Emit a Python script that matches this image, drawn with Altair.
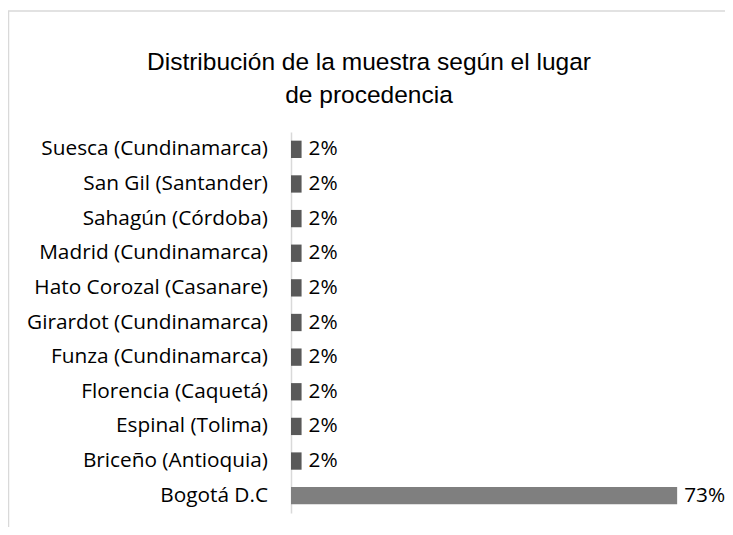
import altair as alt
import pandas as pd

lugares = [
    "Suesca (Cundinamarca)",
    "San Gil (Santander)",
    "Sahagún (Córdoba)",
    "Madrid (Cundinamarca)",
    "Hato Corozal (Casanare)",
    "Girardot (Cundinamarca)",
    "Funza (Cundinamarca)",
    "Florencia (Caquetá)",
    "Espinal (Tolima)",
    "Briceño (Antioquia)",
    "Bogotá D.C",
]
porcentajes = [2, 2, 2, 2, 2, 2, 2, 2, 2, 2, 73]

df = pd.DataFrame({"lugar": lugares, "pct": porcentajes})
df["etiqueta"] = df["pct"].astype(str) + "%"

FONT = "Open Sans"
FS = 20.8
W, H = 420, 381

y_enc = alt.Y(
    "lugar:N",
    sort=lugares,
    scale=alt.Scale(paddingInner=0.5, paddingOuter=0.25),
    axis=alt.Axis(
        title=None,
        ticks=False,
        tickSize=0,
        labelPadding=23.5,
        labelFont=FONT,
        labelFontSize=FS,
        labelColor="#000000",
        domainColor="#d9d9d9",
        domainWidth=1.5,
        labelLimit=400,
    ),
)
x_enc = alt.X("pct:Q", scale=alt.Scale(domain=[0, 79.4], nice=False), axis=None)

bars = alt.Chart(df).mark_bar().encode(
    y=y_enc,
    x=x_enc,
    color=alt.condition(
        alt.datum.lugar == "Bogotá D.C", alt.value("#7f7f7f"), alt.value("#595959")
    ),
)

text = alt.Chart(df).mark_text(
    align="left", baseline="middle", dx=7, font=FONT, fontSize=FS, color="#000000"
).encode(y=alt.Y("lugar:N", sort=lugares), x="pct:Q", text="etiqueta:N")

frame = alt.Chart(pd.DataFrame({"a": [0]})).mark_rect(
    fill=None, stroke="#d9d9d9", strokeWidth=1.5
).encode(
    x=alt.value(-282.5), x2=alt.value(800), y=alt.value(-121), y2=alt.value(700)
)

chart = (
    alt.layer(frame, bars, text)
    .properties(
        width=W,
        height=H,
        autosize=alt.AutoSizeParams(type="none"),
        padding={"left": 283, "top": 124, "right": 14, "bottom": 14},
        title=alt.TitleParams(
            text=["Distribución de la muestra según el lugar", "de procedencia"],
            font="Liberation Sans",
            fontSize=24.5,
            fontWeight="normal",
            color="#000000",
            anchor="middle",
            dx=-132,
            offset=22,
            dy=120,
            lineHeight=33,
        ),
    )
    .configure_view(stroke=None)
)

chart.save("out.html", embed_options={"renderer": "svg", "actions": False})
